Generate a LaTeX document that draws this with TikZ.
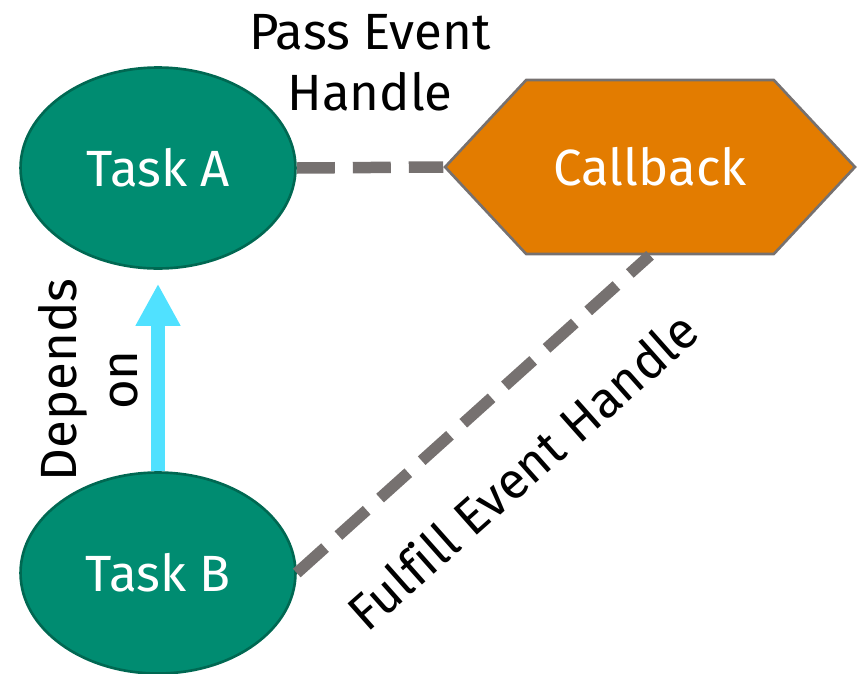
\documentclass[tikz,border=0pt]{standalone}
\usepackage{fontspec}
\setmainfont[Ligatures=NoCommon]{Fira Sans}
\usetikzlibrary{arrows.meta,positioning,shapes.geometric,shapes.symbols}

\definecolor{taskgreen}{RGB}{0,140,113}
\definecolor{taskedge}{RGB}{0,104,82}
\definecolor{cborange}{RGB}{227,124,0}
\definecolor{linkgray}{RGB}{118,113,112}
\definecolor{depcyan}{RGB}{80,225,255}

\tikzset{
  task/.style={ellipse, fill=taskgreen, draw=taskedge, line width=1.5pt,
    minimum width=5.5cm, minimum height=4.02cm, inner sep=0pt,
    text=white, font=\fontsize{29}{35}\selectfont},
  cbbox/.style={signal, signal to=east and west, signal pointer angle=94,
    fill=cborange, draw=linkgray, line width=1.5pt,
    minimum width=8.2cm, minimum height=3.48cm, inner sep=0pt,
    text=white, font=\fontsize{29}{35}\selectfont},
  link/.style={linkgray, line width=0.23cm, dash pattern=on 0.76cm off 0.36cm},
  lbl/.style={font=\fontsize{29}{35}\selectfont, align=center, inner sep=0pt}
}

\begin{document}
\begin{tikzpicture}[x=0.02cm, y=-0.02cm]
    \useasboundingbox (0, 0) rectangle (864, 673);

    % Tasks
    \node[task] (taskA) at (158, 168) {Task A};
    \node[task] (taskB) at (158, 573) {Task B};

    % Callback
    \node[cbbox] (callback) at (650, 167) {Callback};

    % Dependency
    \draw[depcyan, line width=0.28cm, shorten >=0.28cm,
          -{Triangle[width=0.84cm, length=0.84cm]}] (taskB.north) -- (taskA.south);
    \node[lbl, rotate=90] (dependsLbl) at (88, 380) {Depends\\on};

    % Event handle links
    \draw[link] (taskA.east) -- (callback.west);
    \draw[link] (taskB.east) -- (callback.south);
    \node[lbl] (passLbl) at (370, 63) {Pass Event\\Handle};
    \node[lbl, rotate=41.6] (fulfillLbl) at (522, 470) {Fulfill Event Handle};
\end{tikzpicture}
\end{document}
